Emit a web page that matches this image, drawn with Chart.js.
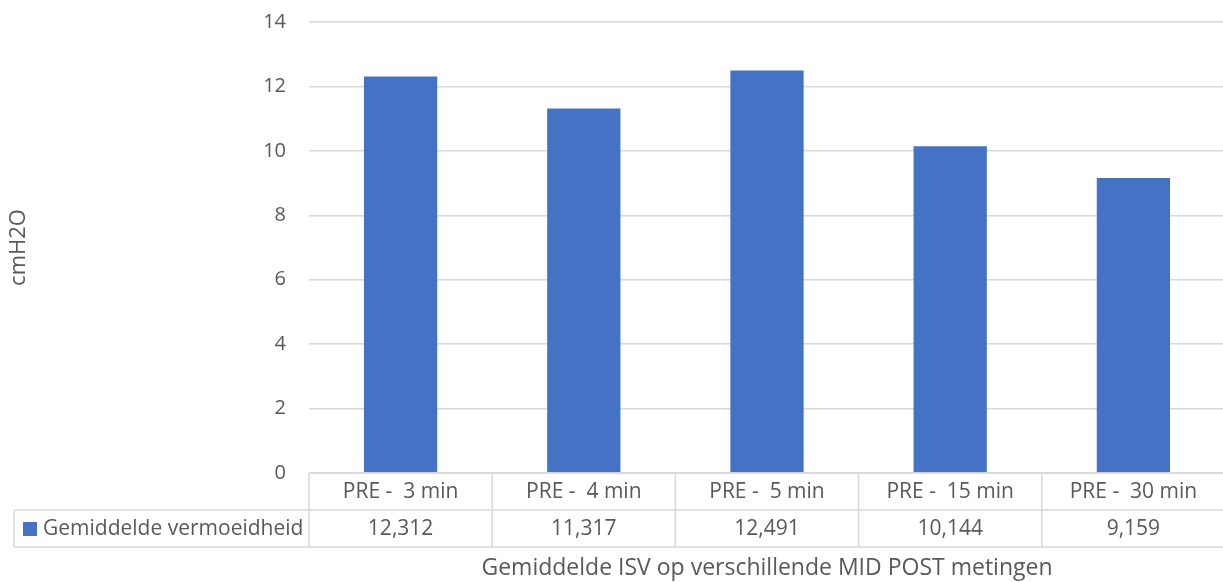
<!DOCTYPE html>
<html>
<head>
<meta charset="utf-8">
<script src="https://cdn.jsdelivr.net/npm/chart.js@4.4.1/dist/chart.umd.min.js"></script>
<style>
  html, body { margin: 0; padding: 0; background: #ffffff; overflow: hidden; }
  #wrap { width: 1226px; height: 582px; position: relative; }
</style>
</head>
<body>
<div id="wrap"><canvas id="isvChart"></canvas></div>
<script>
// data
const categories = ['PRE -  3 min', 'PRE -  4 min', 'PRE -  5 min', 'PRE -  15 min', 'PRE -  30 min'];
const seriesName = 'Gemiddelde vermoeidheid';
const values = [12.312, 11.317, 12.491, 10.144, 9.159];
const yMin = 0;
const yMax = 14;
const yStep = 2;
const yTitle = 'cmH2O';
const xTitle = 'Gemiddelde ISV op verschillende MID POST metingen';

const barColor = '#4472C4';
const textColor = '#595959';
const lineColor = '#D9D9D9';
const fontFamily = "'Open Sans', 'Noto Sans', sans-serif";

// excel style data table under the plot
const dataTablePlugin = {
    id: 'dataTable',
    afterDraw: (chart) => {
        const { ctx, chartArea: { left, right, top, bottom } } = chart;
        const colW = (right - left) / categories.length;
        const rowH = 37;
        const legendLeft = 14;

        ctx.save();
        ctx.strokeStyle = lineColor;
        ctx.lineWidth = 1.5;

        // horizontal lines
        ctx.beginPath();
        ctx.moveTo(left, bottom);
        ctx.lineTo(right, bottom);
        ctx.moveTo(legendLeft, bottom + rowH);
        ctx.lineTo(right, bottom + rowH);
        ctx.moveTo(legendLeft, bottom + rowH * 2);
        ctx.lineTo(right, bottom + rowH * 2);
        // vertical lines
        ctx.moveTo(legendLeft, bottom + rowH);
        ctx.lineTo(legendLeft, bottom + rowH * 2);
        for (let i = 0; i <= categories.length; i++) {
            const xx = left + i * colW;
            ctx.moveTo(xx, bottom);
            ctx.lineTo(xx, bottom + rowH * 2);
        }
        ctx.stroke();

        ctx.fillStyle = textColor;
        ctx.font = '21px ' + fontFamily;
        ctx.textAlign = 'center';
        ctx.textBaseline = 'middle';
        categories.forEach((c, i) => {
            const cx = left + (i + 0.5) * colW;
            ctx.fillText(c, cx, bottom + rowH / 2 + 1);
            ctx.fillText(values[i].toFixed(3).replace('.', ','), cx, bottom + rowH * 1.5 + 1);
        });

        // legend cell
        ctx.fillStyle = barColor;
        ctx.fillRect(23, bottom + rowH + 12, 14, 14);
        ctx.fillStyle = textColor;
        ctx.textAlign = 'left';
        ctx.fillText(seriesName, 43, bottom + rowH * 1.5 + 1);

        // axis titles
        ctx.font = '23px ' + fontFamily;
        ctx.textAlign = 'center';
        ctx.fillText(xTitle, (left + right) / 2, 568);

        ctx.font = '22px ' + fontFamily;
        ctx.translate(19, (top + bottom) / 2);
        ctx.rotate(-Math.PI / 2);
        ctx.fillText(yTitle, 0, 0);
        ctx.restore();
    }
};

const ctx = document.getElementById('isvChart').getContext('2d');

const isvChart = new Chart(ctx, {
    type: 'bar',
    data: {
        labels: categories,
        datasets: [
            {
                label: seriesName,
                data: values,
                backgroundColor: barColor,
                borderWidth: 0,
                barPercentage: 0.4,
                categoryPercentage: 1.0
            }
        ]
    },
    options: {
        responsive: true,
        maintainAspectRatio: false,
        animation: false,
        layout: {
            padding: { top: 22, bottom: 109, left: 0, right: 1 }
        },
        plugins: {
            legend: { display: false },
            tooltip: { enabled: false }
        },
        scales: {
            x: {
                display: false
            },
            y: {
                min: yMin,
                max: yMax,
                ticks: {
                    stepSize: yStep,
                    padding: 23,
                    color: textColor,
                    font: { family: fontFamily, size: 20 }
                },
                grid: {
                    color: lineColor,
                    lineWidth: 1.5,
                    drawTicks: false
                },
                border: { display: false },
                afterFit: (scale) => {
                    scale.width = 309;
                    scale.paddingTop = 0;
                    scale.paddingBottom = 0;
                }
            }
        }
    },
    plugins: [dataTablePlugin]
});
</script>
</body>
</html>
